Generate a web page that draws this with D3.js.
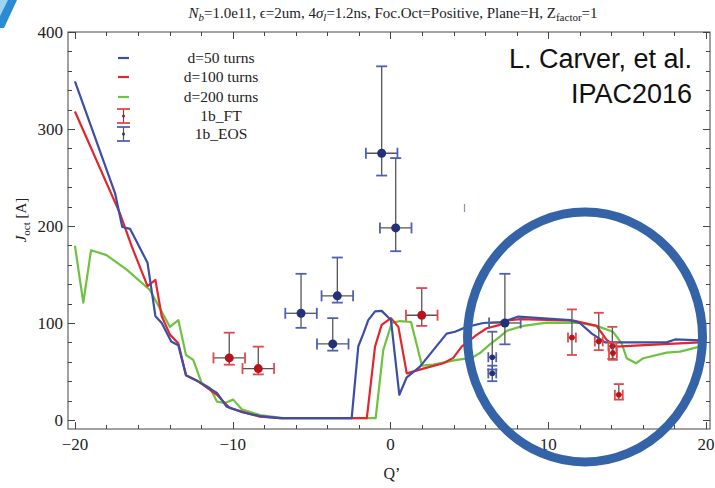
<!DOCTYPE html>
<html>
<head>
<meta charset="utf-8">
<script src="https://cdn.jsdelivr.net/npm/d3@7"></script>
<style>
  body { margin: 0; background: #fff; }
  svg { display: block; }
  .serif { font-family: "Liberation Serif", "Times New Roman", serif; fill: #222; }
</style>
</head>
<body>
<script>
// Simulated curves: [Q', J_oct]
var turns50 = [[-20, 349], [-17.46, 234], [-17.0, 199], [-16.5, 197], [-15.4, 162], [-14.9, 107],
    [-14.5, 100], [-13.9, 81], [-13.45, 77], [-12.96, 46], [-12.0, 38], [-11.0, 28], [-10.4, 14],
    [-9.4, 8], [-8.3, 4], [-7, 2], [-2.46, 2], [-2.04, 76], [-1.72, 89], [-1.41, 103], [-0.98, 112],
    [-0.56, 112.5], [0.03, 103], [0.56, 26], [1.03, 44], [1.87, 55], [2.71, 72], [3.56, 89],
    [4.09, 91], [4.83, 96], [5.88, 100], [6.94, 101], [7.37, 102.5], [8.1, 106.6], [9.48, 105],
    [11.38, 103], [12.0, 100], [12.76, 89], [13.6, 80], [15.0, 80], [17.5, 80], [18.04, 83],
    [19.6, 82], [20, 81]];
var turns100 = [[-20, 318], [-17.15, 213], [-16.4, 179], [-15.4, 138], [-14.9, 144.5], [-14.5, 107],
    [-13.98, 88], [-13.45, 79], [-12.96, 46], [-12.3, 41], [-11.0, 26], [-10.2, 12.4], [-9.4, 8.6],
    [-8.27, 3.4], [-7, 2], [-1.5, 2], [-0.98, 75.6], [-0.56, 98], [0.03, 105], [0.5, 96], [1.03, 48],
    [2.08, 53], [3.35, 58.5], [3.98, 64], [4.51, 75.6], [5.46, 87.7], [6.1, 94.6], [6.94, 98],
    [7.37, 102.5], [8.2, 104], [11.6, 102.5], [13.06, 97], [13.7, 82.5], [14.3, 75.6], [15.8, 77],
    [19.6, 80], [20, 80]];
var turns200 = [[-20, 179.6], [-19.47, 121], [-18.98, 175], [-18.0, 170], [-16.72, 155], [-15.25, 134],
    [-13.98, 96], [-13.45, 103], [-12.96, 67], [-12.5, 62], [-11.97, 38], [-11.44, 33], [-11.0, 19],
    [-10.5, 17.5], [-9.97, 21], [-9.43, 11], [-8.27, 5], [-6.8, 2], [-0.94, 2], [-0.46, 72],
    [0.08, 100], [0.6, 102], [1.3, 101], [2.0, 56], [2.71, 57], [4.2, 62], [5.15, 64], [5.67, 69],
    [6.3, 78], [6.94, 86], [7.37, 92], [8.42, 97], [9.9, 100.4], [12.0, 100], [13.06, 97],
    [14.1, 91], [14.65, 79], [14.97, 63.7], [15.56, 58.5], [16.03, 63.7], [17.5, 69.5],
    [18.35, 70.5], [19.6, 75.6], [20, 78]];

// Measurements: centre, lower/upper J, half-width in Q'
var ftData = [
    {q: -10.22, j: 64, lo: 57, hi: 90, dq: 1},
    {q: -8.38, j: 53, lo: 47, hi: 75.6, dq: 1},
    {q: 1.98, j: 108, lo: 97, hi: 136, dq: 1},
    {q: 11.5, j: 85, lo: 67, hi: 114, dq: 0.25},
    {q: 13.2, j: 81, lo: 72, hi: 110.5, dq: 0.25},
    {q: 14.06, j: 76, lo: 63, hi: 96, dq: 0.25},
    {q: 14.1, j: 69, lo: 62, hi: 80, dq: 0.25},
    {q: 14.47, j: 26, lo: 21, hi: 37, dq: 0.25}];
var eosData = [
    {q: -0.56, j: 275, lo: 252, hi: 364.6, dq: 1},
    {q: 0.33, j: 198, lo: 174, hi: 270, dq: 1},
    {q: -5.67, j: 110, lo: 95, hi: 150.7, dq: 1},
    {q: -3.37, j: 128, lo: 121, hi: 167.5, dq: 1},
    {q: -3.66, j: 78.4, lo: 71.5, hi: 105, dq: 1},
    {q: 7.25, j: 100, lo: 78, hi: 150.7, dq: 1},
    {q: 6.45, j: 64.7, lo: 52, hi: 91, dq: 0.25},
    {q: 6.45, j: 48, lo: 40, hi: 56, dq: 0.25}];

var legendNames = ["d=50 turns", "d=100 turns", "d=200 turns", "1b_FT", "1b_EOS"];
var xTicks = [-20, -10, 0, 10, 20];
var yTicks = [0, 100, 200, 300, 400];

var W = 715, H = 488;
var frame = {left: 68, right: 710, top: 32, bottom: 429};

var xScale = d3.scaleLinear().domain([-20.44, 20.25]).range([frame.left, frame.right]);
var yScale = d3.scaleLinear().domain([-9.3, 400]).range([frame.bottom, frame.top]);

var colors = {blue: "#3c4ea6", red: "#e3262d", green: "#6fc23f",
    capRed: "#e8454b", capBlue: "#4b62b4", dotRed: "#b5141d", dotBlue: "#243179", stem: "#555"};

var svg = d3.select("body").append("svg")
    .attr("width", W)
    .attr("height", H);

// slide decoration, top-left corner
svg.append("polygon").attr("points", "0,0 17,0 4,28 0,28").attr("fill", "#2a8bd0");
svg.append("polygon").attr("points", "0,0 8,0 0,16").attr("fill", "#9fd3f2");

// Frame
svg.append("rect")
    .attr("x", frame.left).attr("y", frame.top)
    .attr("width", frame.right - frame.left).attr("height", frame.bottom - frame.top)
    .attr("fill", "none").attr("stroke", "#444").attr("stroke-width", 1);

// Inward ticks on all four sides
var tickG = svg.append("g").attr("stroke", "#444").attr("stroke-width", 1);
d3.range(-20, 21, 2).forEach(function(v) {
    var len = (v % 10 === 0) ? 7 : 4;
    var px = Math.round(xScale(v)) + 0.5;
    tickG.append("line").attr("x1", px).attr("x2", px)
        .attr("y1", frame.bottom).attr("y2", frame.bottom - len);
    tickG.append("line").attr("x1", px).attr("x2", px)
        .attr("y1", frame.top).attr("y2", frame.top + len);
});
d3.range(0, 401, 20).forEach(function(v) {
    var len = (v % 100 === 0) ? 7 : 4;
    var py = Math.round(yScale(v)) + 0.5;
    tickG.append("line").attr("y1", py).attr("y2", py)
        .attr("x1", frame.left).attr("x2", frame.left + len);
    tickG.append("line").attr("y1", py).attr("y2", py)
        .attr("x1", frame.right).attr("x2", frame.right - len);
});

// Tick labels
var fmt = d3.format("d");
svg.selectAll(".xlab").data(xTicks).enter().append("text")
    .attr("class", "serif xlab")
    .attr("x", function(d) { return xScale(d); })
    .attr("y", 450)
    .attr("text-anchor", "middle")
    .attr("font-size", 17)
    .text(function(d) { return fmt(d); });
svg.selectAll(".ylab").data(yTicks).enter().append("text")
    .attr("class", "serif ylab")
    .attr("x", 63)
    .attr("y", function(d) { return yScale(d) + 6; })
    .attr("text-anchor", "end")
    .attr("font-size", 17)
    .text(function(d) { return d; });

// Axis titles
svg.append("text").attr("class", "serif")
    .attr("x", 392).attr("y", 479)
    .attr("text-anchor", "middle").attr("font-size", 16)
    .text("Q’");
var yl = svg.append("text").attr("class", "serif")
    .attr("transform", "translate(26,220) rotate(-90)")
    .attr("text-anchor", "middle").attr("font-size", 15);
yl.append("tspan").attr("font-style", "italic").text("J");
yl.append("tspan").attr("font-size", 11).attr("dy", 4).text("oct");
yl.append("tspan").attr("dy", -4).text(" [A]");

// Title
var tt = svg.append("text").attr("class", "serif")
    .attr("x", 393).attr("y", 18)
    .attr("text-anchor", "middle").attr("font-size", 15);
tt.append("tspan").attr("font-style", "italic").text("N");
tt.append("tspan").attr("font-style", "italic").attr("font-size", 11).attr("dy", 3).text("b");
tt.append("tspan").attr("dy", -3).text("=1.0e11, ϵ=2um, 4");
tt.append("tspan").attr("font-style", "italic").text("σ");
tt.append("tspan").attr("font-style", "italic").attr("font-size", 11).attr("dy", 3).text("l");
tt.append("tspan").attr("dy", -3).text("=1.2ns, Foc.Oct=Positive, Plane=H, Z");
tt.append("tspan").attr("font-size", 11).attr("dy", 3).text("factor");
tt.append("tspan").attr("dy", -3).text("=1");

// Curves
var line = d3.line()
    .x(function(d) { return xScale(d[0]); })
    .y(function(d) { return yScale(d[1]); });
var plot = svg.append("g");
[[turns200, colors.green], [turns100, colors.red], [turns50, colors.blue]].forEach(function(s) {
    plot.append("path").datum(s[0])
        .attr("d", line)
        .attr("fill", "none")
        .attr("stroke", s[1])
        .attr("stroke-width", 2.2)
        .attr("stroke-linejoin", "round");
});

// Error bars
function drawErrors(data, capColor, dotColor) {
    var g = plot.append("g");
    data.forEach(function(d) {
        var big = d.dq >= 0.5;
        var cx = xScale(d.q), cy = yScale(d.j);
        var cw = big ? 5.5 : 5;
        // stems
        g.append("line").attr("x1", cx).attr("x2", cx)
            .attr("y1", yScale(d.hi)).attr("y2", yScale(d.lo))
            .attr("stroke", colors.stem).attr("stroke-width", 1.3);
        g.append("line").attr("x1", xScale(d.q - d.dq)).attr("x2", xScale(d.q + d.dq))
            .attr("y1", cy).attr("y2", cy)
            .attr("stroke", colors.stem).attr("stroke-width", 1.3);
        // caps
        [d.hi, d.lo].forEach(function(v) {
            g.append("line").attr("x1", cx - cw).attr("x2", cx + cw)
                .attr("y1", yScale(v)).attr("y2", yScale(v))
                .attr("stroke", capColor).attr("stroke-width", 1.8);
        });
        [d.q - d.dq, d.q + d.dq].forEach(function(v) {
            g.append("line").attr("x1", xScale(v)).attr("x2", xScale(v))
                .attr("y1", cy - cw).attr("y2", cy + cw)
                .attr("stroke", capColor).attr("stroke-width", 1.8);
        });
        g.append("circle").attr("cx", cx).attr("cy", cy)
            .attr("r", big ? 4.5 : 2.8)
            .attr("fill", dotColor);
    });
}
drawErrors(ftData, colors.capRed, colors.dotRed);
drawErrors(eosData, colors.capBlue, colors.dotBlue);

// Legend
var legY = [58, 77, 97, 116, 134];
var legColors = [colors.blue, colors.red, colors.green];
var leg = svg.append("g");
legendNames.forEach(function(name, i) {
    var y = legY[i];
    if (i < 3) {
        leg.append("line").attr("x1", 118).attr("x2", 129)
            .attr("y1", y).attr("y2", y)
            .attr("stroke", legColors[i]).attr("stroke-width", 2.2);
    } else {
        var cap = i === 3 ? colors.capRed : colors.capBlue;
        var dot = i === 3 ? colors.dotRed : colors.dotBlue;
        leg.append("line").attr("x1", 123.5).attr("x2", 123.5)
            .attr("y1", y - 7).attr("y2", y + 7)
            .attr("stroke", colors.stem).attr("stroke-width", 1.2);
        [y - 7, y + 7].forEach(function(v) {
            leg.append("line").attr("x1", 117).attr("x2", 130)
                .attr("y1", v).attr("y2", v)
                .attr("stroke", cap).attr("stroke-width", 1.8);
        });
        leg.append("circle").attr("cx", 123.5).attr("cy", y).attr("r", 1.5).attr("fill", dot);
    }
    leg.append("text").attr("class", "serif")
        .attr("x", 221).attr("y", y + 5)
        .attr("text-anchor", "middle").attr("font-size", 15.5)
        .text(name);
});

// Annotation
var ann = svg.append("g").attr("font-family", "'Liberation Sans', Arial, sans-serif")
    .attr("font-size", 27).attr("fill", "#111").attr("text-anchor", "end");
ann.append("text").attr("x", 692).attr("y", 68).text("L. Carver, et al.");
ann.append("text").attr("x", 692).attr("y", 103).text("IPAC2016");

// stray mark
svg.append("line").attr("x1", 464.5).attr("x2", 464.5).attr("y1", 204).attr("y2", 212)
    .attr("stroke", "#7a95d2").attr("stroke-width", 1.2);

// Highlight circle
svg.append("ellipse")
    .attr("cx", 585).attr("cy", 337).attr("rx", 117.5).attr("ry", 125)
    .attr("fill", "none").attr("stroke", "#3463a7").attr("stroke-width", 9);
</script>
</body>
</html>
